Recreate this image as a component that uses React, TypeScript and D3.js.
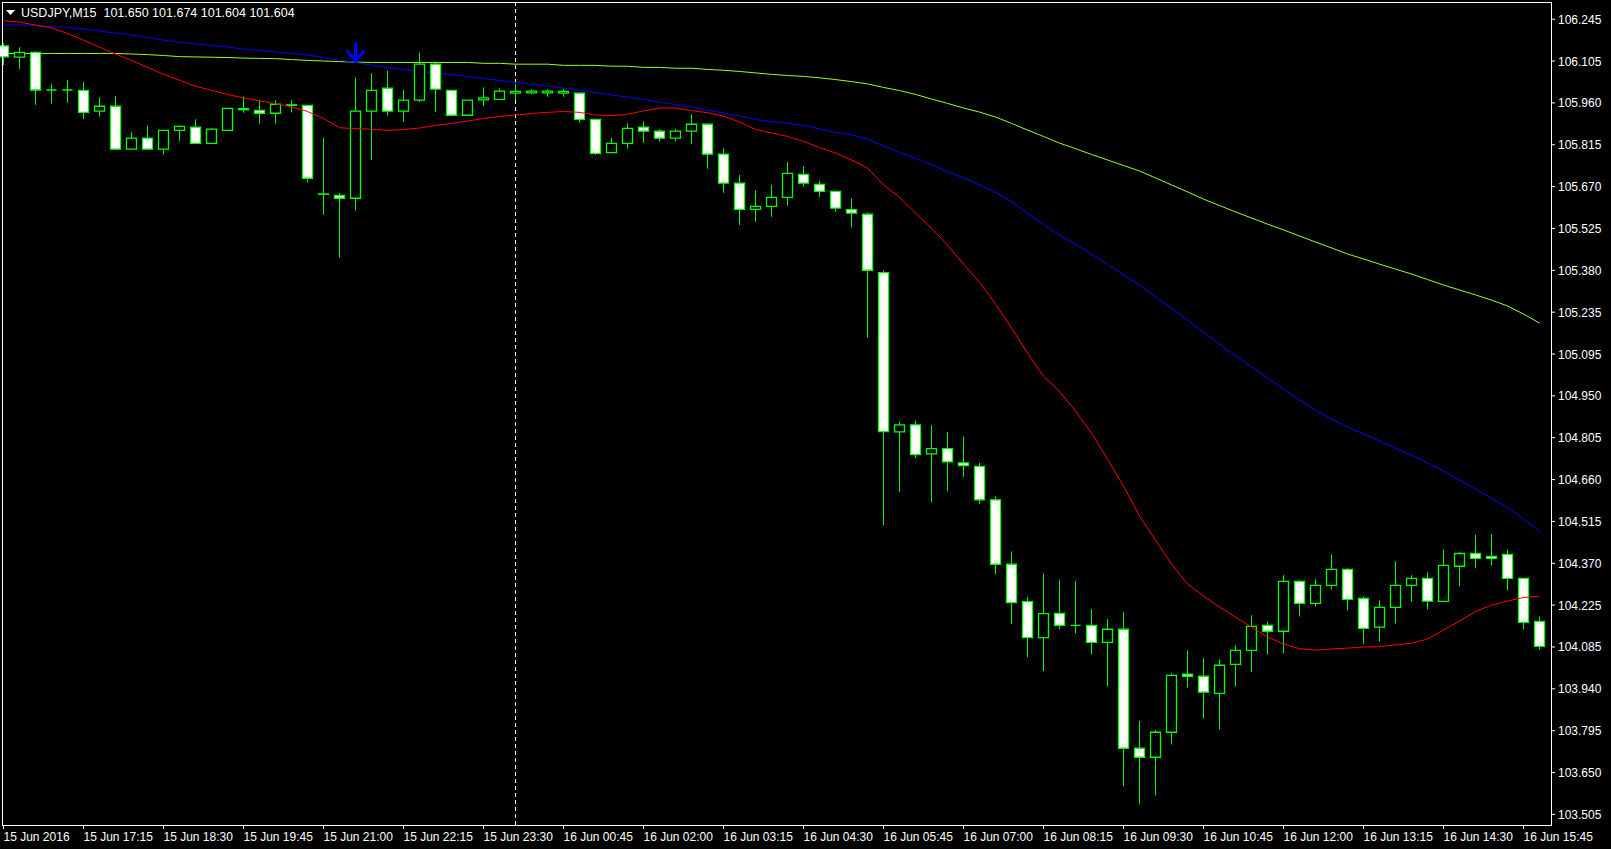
import React from 'react';
import * as d3 from 'd3';

const W = 1611;
const H = 849;

const headerText = 'USDJPY,M15  101.650 101.674 101.604 101.604';

const timeLabels = [
  '15 Jun 2016', '15 Jun 17:15', '15 Jun 18:30', '15 Jun 19:45', '15 Jun 21:00',
  '15 Jun 22:15', '15 Jun 23:30', '16 Jun 00:45', '16 Jun 02:00', '16 Jun 03:15',
  '16 Jun 04:30', '16 Jun 05:45', '16 Jun 07:00', '16 Jun 08:15', '16 Jun 09:30',
  '16 Jun 10:45', '16 Jun 12:00', '16 Jun 13:15', '16 Jun 14:30', '16 Jun 15:45',
];
const timeLabelStep = 5; // bars between time labels

const priceLabels = [
  '106.245', '106.105', '105.960', '105.815', '105.670', '105.525', '105.380',
  '105.235', '105.095', '104.950', '104.805', '104.660', '104.515', '104.370',
  '104.225', '104.085', '103.940', '103.795', '103.650', '103.505',
];
const priceTop = 106.245;
const priceBottom = 103.505;

const open = [
  106.153, 106.114, 106.131, 106.001, 106.001, 106.000, 105.928, 105.945, 105.797, 105.835,
  105.797, 105.862, 105.873, 105.817, 105.862, 105.933, 105.931, 105.921, 105.948, 105.948,
  105.642, 105.638, 105.628, 105.928, 106.007, 105.928, 105.966, 106.090, 106.000, 105.914,
  105.967, 105.969, 105.990, 105.991, 105.991, 105.990, 105.990, 105.900, 105.785, 105.817,
  105.873, 105.859, 105.835, 105.859, 105.883, 105.780, 105.680, 105.590, 105.600, 105.631,
  105.710, 105.676, 105.652, 105.589, 105.573, 105.372, 104.823, 104.847, 104.747, 104.765,
  104.716, 104.704, 104.589, 104.367, 104.238, 104.114, 104.198, 104.156, 104.156, 104.098,
  104.143, 103.733, 103.702, 103.788, 103.988, 103.981, 103.922, 104.022, 104.070, 104.156,
  104.136, 104.308, 104.232, 104.294, 104.349, 104.249, 104.150, 104.218, 104.294, 104.318,
  104.239, 104.360, 104.404, 104.394, 104.401, 104.318, 104.170,
];
const high = [
  106.163, 106.148, 106.135, 106.022, 106.035, 106.029, 105.976, 105.980, 105.856, 105.879,
  105.862, 105.879, 105.900, 105.869, 105.938, 105.979, 105.966, 105.966, 105.966, 105.949,
  105.836, 105.646, 106.045, 106.059, 106.067, 106.001, 106.129, 106.097, 106.000, 105.966,
  106.010, 106.007, 106.021, 106.004, 106.004, 106.004, 105.991, 105.901, 105.836, 105.886,
  105.893, 105.866, 105.866, 105.917, 105.883, 105.800, 105.708, 105.656, 105.674, 105.753,
  105.738, 105.688, 105.652, 105.627, 105.579, 105.380, 104.858, 104.861, 104.847, 104.823,
  104.806, 104.716, 104.601, 104.411, 104.254, 104.336, 104.313, 104.309, 104.213, 104.178,
  104.202, 103.827, 103.796, 103.991, 104.070, 104.043, 104.039, 104.088, 104.191, 104.170,
  104.329, 104.313, 104.315, 104.401, 104.353, 104.256, 104.243, 104.377, 104.329, 104.339,
  104.418, 104.408, 104.468, 104.471, 104.418, 104.319, 104.187,
];
const low = [
  106.087, 106.074, 105.950, 105.954, 105.957, 105.900, 105.909, 105.796, 105.797, 105.797,
  105.778, 105.826, 105.816, 105.817, 105.862, 105.923, 105.885, 105.885, 105.924, 105.682,
  105.571, 105.423, 105.585, 105.761, 105.913, 105.892, 105.959, 105.926, 105.914, 105.914,
  105.945, 105.966, 105.966, 105.988, 105.978, 105.978, 105.888, 105.777, 105.785, 105.799,
  105.819, 105.823, 105.823, 105.816, 105.730, 105.647, 105.536, 105.547, 105.564, 105.602,
  105.668, 105.633, 105.582, 105.527, 105.148, 104.502, 104.616, 104.733, 104.581, 104.619,
  104.668, 104.575, 104.332, 104.161, 104.047, 103.999, 104.143, 104.129, 104.056, 103.946,
  103.602, 103.540, 103.571, 103.746, 103.943, 103.836, 103.798, 103.946, 103.995, 104.056,
  104.060, 104.187, 104.222, 104.280, 104.208, 104.093, 104.101, 104.163, 104.239, 104.212,
  104.236, 104.291, 104.353, 104.363, 104.277, 104.143, 104.072,
];
const close = [
  106.115, 106.131, 106.001, 106.001, 106.001, 105.924, 105.945, 105.797, 105.835, 105.797,
  105.862, 105.876, 105.817, 105.866, 105.938, 105.937, 105.921, 105.952, 105.950, 105.697,
  105.643, 105.628, 105.928, 106.000, 105.928, 105.966, 106.090, 106.004, 105.914, 105.966,
  105.974, 105.997, 105.996, 105.997, 105.997, 105.996, 105.900, 105.783, 105.817, 105.869,
  105.859, 105.835, 105.859, 105.883, 105.780, 105.680, 105.590, 105.600, 105.631, 105.714,
  105.680, 105.652, 105.594, 105.577, 105.380, 104.824, 104.847, 104.745, 104.765, 104.720,
  104.707, 104.589, 104.367, 104.235, 104.114, 104.197, 104.156, 104.156, 104.098, 104.143,
  103.733, 103.702, 103.788, 103.984, 103.981, 103.926, 104.019, 104.070, 104.153, 104.136,
  104.308, 104.232, 104.294, 104.349, 104.246, 104.146, 104.218, 104.294, 104.318, 104.240,
  104.363, 104.404, 104.387, 104.387, 104.318, 104.167, 104.084,
];

// Moving averages (red fast, blue medium, yellow-green slow)
const maRed = [
  106.240, 106.235, 106.225, 106.215, 106.196, 106.173, 106.149, 106.125, 106.103, 106.079,
  106.055, 106.035, 106.014, 106.000, 105.986, 105.974, 105.964, 105.954, 105.943, 105.927,
  105.903, 105.871, 105.868, 105.866, 105.862, 105.865, 105.870, 105.879, 105.886, 105.894,
  105.903, 105.910, 105.915, 105.920, 105.924, 105.927, 105.924, 105.915, 105.913, 105.917,
  105.929, 105.939, 105.939, 105.930, 105.923, 105.911, 105.891, 105.865, 105.853, 105.841,
  105.824, 105.803, 105.784, 105.760, 105.732, 105.674, 105.632, 105.577, 105.525, 105.467,
  105.401, 105.339, 105.264, 105.181, 105.095, 105.015, 104.962, 104.895, 104.819, 104.729,
  104.636, 104.533, 104.450, 104.368, 104.299, 104.257, 104.219, 104.185, 104.151, 104.116,
  104.092, 104.076, 104.071, 104.075, 104.078, 104.082, 104.083, 104.089, 104.095, 104.109,
  104.140, 104.171, 104.204, 104.226, 104.240, 104.252, 104.257,
];
const maBlue = [
  106.225, 106.225, 106.223, 106.220, 106.216, 106.211, 106.204, 106.197, 106.191, 106.182,
  106.173, 106.166, 106.160, 106.154, 106.149, 106.142, 106.137, 106.132, 106.127, 106.122,
  106.113, 106.104, 106.096, 106.087, 106.078, 106.072, 106.066, 106.060, 106.054, 106.048,
  106.040, 106.034, 106.027, 106.021, 106.015, 106.008, 106.001, 105.992, 105.984, 105.977,
  105.968, 105.960, 105.951, 105.943, 105.932, 105.922, 105.911, 105.900, 105.892, 105.887,
  105.879, 105.867, 105.855, 105.846, 105.832, 105.808, 105.786, 105.765, 105.744, 105.720,
  105.698, 105.674, 105.648, 105.617, 105.575, 105.538, 105.501, 105.469, 105.436, 105.400,
  105.364, 105.329, 105.288, 105.250, 105.208, 105.167, 105.126, 105.084, 105.047, 105.009,
  104.971, 104.933, 104.898, 104.867, 104.840, 104.816, 104.792, 104.767, 104.743, 104.716,
  104.688, 104.657, 104.626, 104.595, 104.561, 104.523, 104.481,
];
const maGreen = [
  106.127, 106.127, 106.127, 106.127, 106.127, 106.127, 106.127, 106.127, 106.125, 106.123,
  106.120, 106.116, 106.115, 106.114, 106.113, 106.111, 106.110, 106.109, 106.106, 106.103,
  106.101, 106.099, 106.097, 106.096, 106.096, 106.096, 106.096, 106.096, 106.096, 106.096,
  106.093, 106.093, 106.090, 106.090, 106.090, 106.086, 106.086, 106.086, 106.083, 106.083,
  106.079, 106.079, 106.076, 106.076, 106.072, 106.069, 106.065, 106.060, 106.055, 106.051,
  106.048, 106.043, 106.037, 106.030, 106.022, 106.010, 105.999, 105.986, 105.970, 105.955,
  105.939, 105.925, 105.908, 105.886, 105.863, 105.841, 105.818, 105.799, 105.779, 105.760,
  105.741, 105.722, 105.698, 105.674, 105.650, 105.625, 105.603, 105.581, 105.560, 105.539,
  105.519, 105.498, 105.477, 105.457, 105.436, 105.419, 105.401, 105.384, 105.367, 105.348,
  105.329, 105.312, 105.295, 105.277, 105.257, 105.229, 105.198,
];

const separatorBar = 32; // 16 Jun 00:00
const signalBar = 22;
const signalPrice = 106.096;

const BG = '#000000';
const FG = '#FFFFFF';
const CANDLE = '#00FF00';
const RED = '#FF0000';
const BLUE = '#0000FF';
const SLOW = '#9AFF1E';
const FONT = '"Liberation Sans", Arial, sans-serif';

export default function App() {
  const left = 2;
  const right = 1551;
  const top = 2;
  const bottom = 825;

  const n = open.length;
  const x = d3.scaleLinear().domain([0, n - 1]).range([3.5, 1539.5]);
  const y = d3.scaleLinear().domain([priceBottom, priceTop]).range([814.4, 19.2]);

  const tickStep = (priceTop - priceBottom) / (priceLabels.length - 1);
  const priceTicks = priceLabels.map((lab, i) => ({ lab, v: priceTop - i * tickStep }));

  const line = (arr: number[]) =>
    d3.line<number>().x((_, i) => x(i)).y((d) => y(d))(arr) || '';

  const half = 5;
  const candles = open.map((o, i) => {
    const c = close[i];
    const cx = x(i);
    const yo = y(o);
    const yc = y(c);
    const yt = Math.min(yo, yc);
    const yb = Math.max(yo, yc);
    const bear = c < o;
    const body = `M${cx - half},${yt}H${cx + half}V${yb}H${cx - half}Z`;
    return (
      <g key={i}>
        <line x1={cx} x2={cx} y1={y(high[i])} y2={y(low[i])} stroke={CANDLE} strokeWidth={1} />
        <path d={body} fill={bear ? '#FFFFFF' : '#000000'} stroke={CANDLE} strokeWidth={1.3} />
      </g>
    );
  });

  const ax = x(signalBar);
  const ay = y(signalPrice);

  return (
    <svg
      width={W}
      height={H}
      style={{ position: 'absolute', left: 0, top: 0, display: 'block', background: BG }}
    >
      <rect x={0} y={0} width={W} height={H} fill={BG} />

      {/* period separator */}
      <line
        x1={x(separatorBar)}
        x2={x(separatorBar)}
        y1={top}
        y2={bottom}
        stroke={FG}
        strokeWidth={1}
        strokeDasharray="4,3"
      />

      {/* moving averages */}
      <path d={line(maGreen)} fill="none" stroke={SLOW} strokeWidth={1} />
      <path d={line(maBlue)} fill="none" stroke={BLUE} strokeWidth={1} />

      {candles}

      <path d={line(maRed)} fill="none" stroke={RED} strokeWidth={1} />

      {/* signal arrow */}
      <g stroke={BLUE} strokeWidth={3} fill="none">
        <line x1={ax} x2={ax} y1={ay - 20} y2={ay - 2} />
        <polyline points={`${ax - 9},${ay - 12} ${ax},${ay - 2} ${ax + 9},${ay - 12}`} />
      </g>

      {/* frame */}
      <rect
        x={left + 0.5}
        y={top + 0.5}
        width={right - left}
        height={bottom - top}
        fill="none"
        stroke={FG}
        strokeWidth={1}
      />

      {/* price axis */}
      {priceTicks.map((t, i) => (
        <g key={i}>
          <line x1={right} x2={right + 4} y1={y(t.v)} y2={y(t.v)} stroke={FG} strokeWidth={1} />
          <text
            x={right + 7}
            y={y(t.v) + 4.5}
            fill={FG}
            fontFamily={FONT}
            fontSize={12}
          >
            {t.lab}
          </text>
        </g>
      ))}

      {/* time axis */}
      {timeLabels.map((lab, i) => {
        const tx = x(i * timeLabelStep);
        return (
          <g key={i}>
            <line x1={tx} x2={tx} y1={bottom} y2={bottom + 4} stroke={FG} strokeWidth={1} />
            <text x={tx} y={841} fill={FG} fontFamily={FONT} fontSize={12}>
              {lab}
            </text>
          </g>
        );
      })}

      {/* header */}
      <path d="M6,10 L15,10 L10.5,15 Z" fill={FG} />
      <text
        x={21}
        y={17}
        fill={FG}
        fontFamily={FONT}
        fontSize={12.5}
        style={{ whiteSpace: 'pre' }}
      >
        {headerText}
      </text>
    </svg>
  );
}
